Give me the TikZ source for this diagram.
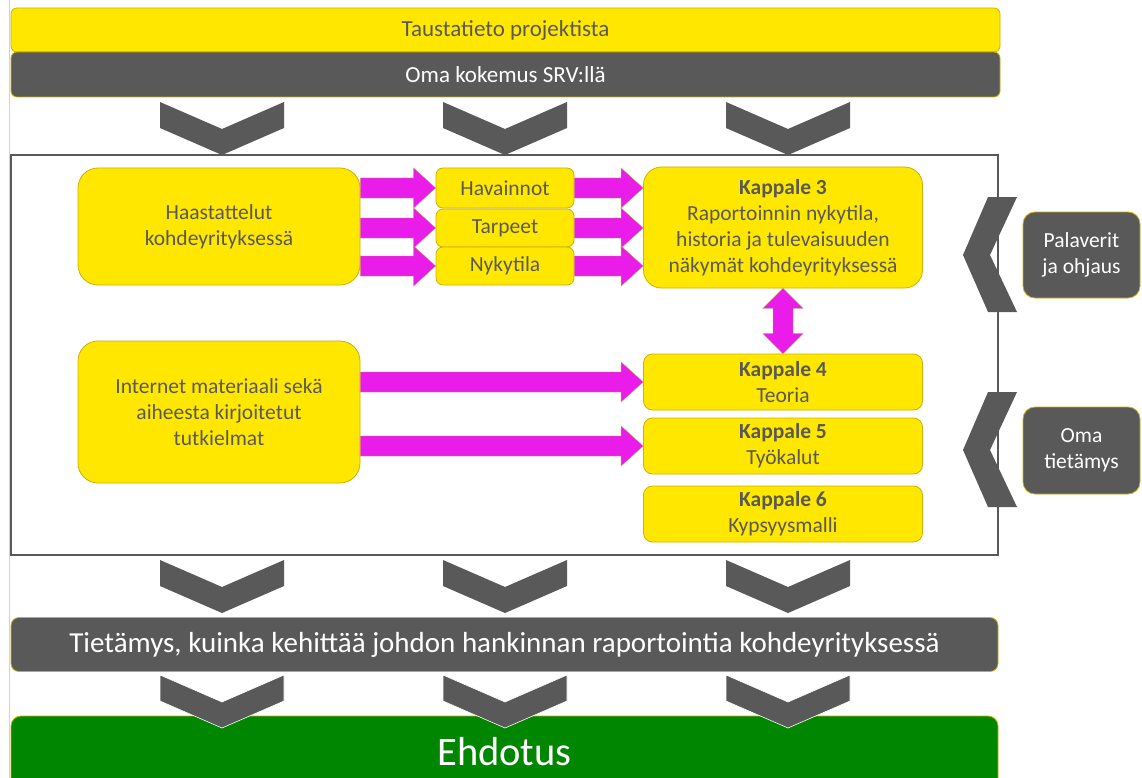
\documentclass[tikz,border=0pt]{standalone}
\usepackage{fontspec}
\setmainfont{Carlito}
\usetikzlibrary{calc}
\definecolor{yel}{HTML}{FFE700}
\definecolor{ybd}{HTML}{C9B200}
\definecolor{dg}{HTML}{595959}
\definecolor{mag}{HTML}{E91CE9}
\definecolor{magbd}{HTML}{C8A040}
\definecolor{grn}{HTML}{008600}
\newcommand\barrow[3]{\path[arrowfill] let \p1=(#1), \p2=(#2), \p3=(#3) in
  (\x1,\y3+10pt) -- (\x2-22pt,\y3+10pt) -- (\x2-22pt,\y3+20pt) -- (\x2,\y3) --
  (\x2-22pt,\y3-20pt) -- (\x2-22pt,\y3-10pt) -- (\x1,\y3-10pt) -- cycle;}
\newcommand\chevdown[3][]{\path[chev,#1] (#2-62,#3) -- (#2,#3+27) -- (#2+62,#3) -- (#2+62,#3+26) -- (#2,#3+53) -- (#2-62,#3+26) -- cycle;}
\newcommand\chevleft[2]{\path[chev] (#1+25,#2-58) -- (#1+54,#2-58) -- (#1+27,#2) -- (#1+54,#2+57) -- (#1+25,#2+57) -- (#1,#2) -- cycle;}
\begin{document}
\begin{tikzpicture}[x=1pt,y=-1pt,
  ybox/.style={draw=ybd, fill=yel, line width=0.8pt, text=dg, align=center, inner sep=0pt, font=\fontsize{21.5}{26}\selectfont},
  gbox/.style={draw=ybd, fill=dg, line width=0.8pt, text=white, align=center, inner sep=0pt, font=\fontsize{21.5}{26}\selectfont},
  arrowfill/.style={fill=mag, draw=magbd, line width=0.3pt},
  chev/.style={fill=dg}]
\useasboundingbox (0,0) rectangle (1142,778);
\fill[white] (0,0) rectangle (1142,778);
\draw[gray!35, line width=1pt] (9.5,0) -- (9.5,778);
% top bars
\node[ybox, rounded corners=6pt, minimum width=989pt, minimum height=44pt, font=\fontsize{23}{26}\selectfont] (top) at (505.5,30) {Taustatieto projektista};
\node[gbox, rounded corners=6pt, minimum width=989pt, minimum height=45pt, font=\fontsize{23}{26}\selectfont] (srv) at (505.5,74.5) {Oma kokemus SRV:llä};
% chevrons row 1
\chevdown{222}{102}
\chevdown{505}{102}
\chevdown{788}{102}
% frame
\draw[dg, line width=2.5pt] (11,155) rectangle (998,555);
% right chevrons
\chevleft{963}{255}
\chevleft{963}{450}
% inner boxes
\node[ybox, rounded corners=20pt, minimum width=282pt, minimum height=117pt] (hs) at (219,226.5) {Haastattelut\\kohdeyrityksessä};
\node[ybox, rounded corners=7pt, minimum width=138pt, minimum height=40pt] (hav) at (505,188) {Havainnot};
\node[ybox, rounded corners=7pt, minimum width=138pt, minimum height=38pt] (tar) at (505,228) {Tarpeet};
\node[ybox, rounded corners=7pt, minimum width=138pt, minimum height=38pt] (nyk) at (505,266) {Nykytila};
\node[ybox, rounded corners=18pt, minimum width=279pt, minimum height=121pt] (k3) at (783,227.5) {\textbf{Kappale 3}\\Raportoinnin nykytila,\\historia ja tulevaisuuden\\näkymät kohdeyrityksessä};
\node[ybox, rounded corners=9pt, minimum width=279pt, minimum height=56pt] (k4) at (783,382) {\textbf{Kappale 4}\\Teoria};
\node[ybox, rounded corners=9pt, minimum width=279pt, minimum height=56pt] (k5) at (783,446) {\textbf{Kappale 5}\\Työkalut};
\node[ybox, rounded corners=9pt, minimum width=279pt, minimum height=56pt] (k6) at (783,514) {\textbf{Kappale 6}\\Kypsyysmalli};
\node[ybox, rounded corners=20pt, minimum width=282pt, minimum height=142pt] (int) at (219,412) {Internet materiaali sekä\\aiheesta kirjoitetut\\tutkielmat};
\node[gbox, rounded corners=12pt, minimum width=117pt, minimum height=86pt] (pal) at (1081.5,255) {Palaverit\\ja ohjaus};
\node[gbox, rounded corners=12pt, minimum width=117pt, minimum height=87pt] (oma) at (1081.5,450.5) {Oma\\tietämys};
% magenta arrows
\barrow{hs.east}{hav.west}{hav.center}
\barrow{hs.east}{tar.west}{tar.center}
\barrow{hs.east}{nyk.west}{nyk.center}
\barrow{hav.east}{k3.west}{hav.center}
\barrow{tar.east}{k3.west}{tar.center}
\barrow{nyk.east}{k3.west}{nyk.center}
\barrow{int.east}{k4.west}{k4.center}
\barrow{int.east}{k5.west}{k5.center}
\path[arrowfill] let \p1=(k3.south), \p2=(k4.north) in
  (\x1,\y1) -- (\x1+20pt,\y1-20pt) -- (\x1+10pt,\y1-20pt) -- (\x1+10pt,\y2+20pt) -- (\x1+20pt,\y2+20pt) --
  (\x1,\y2) -- (\x1-20pt,\y2+20pt) -- (\x1-10pt,\y2+20pt) -- (\x1-10pt,\y1-20pt) -- (\x1-20pt,\y1-20pt) -- cycle;
% chevrons row 2
\chevdown{222}{560}
\chevdown{505}{560}
\chevdown{788}{560}
% result bar
\node[gbox, rounded corners=8pt, minimum width=987pt, minimum height=54pt, font=\fontsize{29}{32}\selectfont] (tb) at (504.5,644.5) {Tietämys, kuinka kehittää johdon hankinnan raportointia kohdeyrityksessä};
% green bar
\node[draw=ybd, fill=grn, line width=0.8pt, rounded corners=10pt, minimum width=987pt, minimum height=72pt, inner sep=0pt, text=white, font=\fontsize{40.5}{44}\selectfont] (ehd) at (504.5,752) {Ehdotus};
% chevrons row 3
\chevdown[draw=white, line width=0.6pt]{222}{675}
\chevdown[draw=white, line width=0.6pt]{505}{675}
\chevdown[draw=white, line width=0.6pt]{788}{675}
\end{tikzpicture}
\end{document}
